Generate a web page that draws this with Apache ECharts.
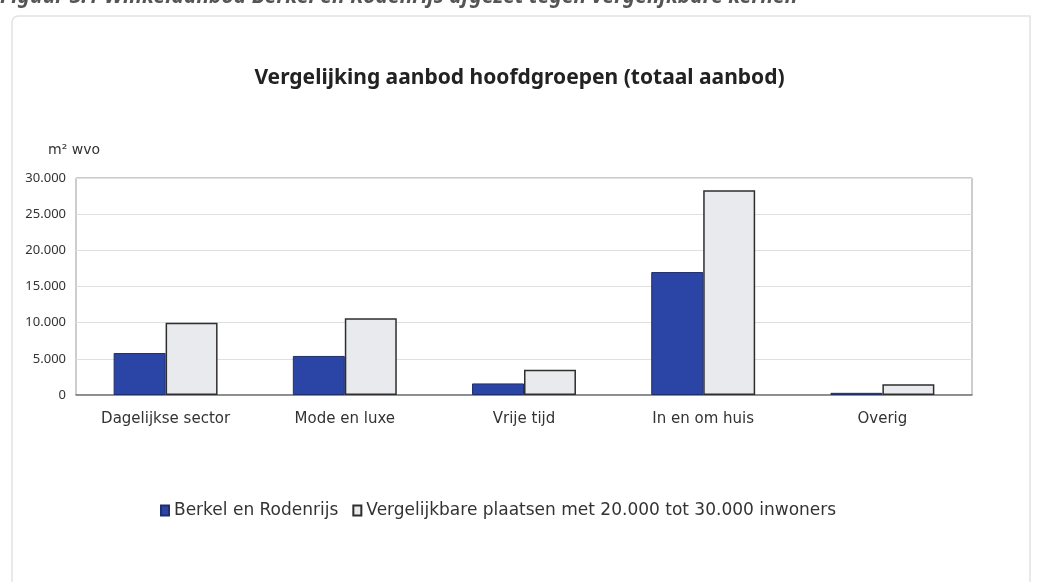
<!DOCTYPE html>
<html>
<head>
<meta charset="utf-8">
<script src="https://cdn.jsdelivr.net/npm/echarts@6/dist/echarts.min.js"></script>
<style>
  html, body { margin: 0; padding: 0; background: #fff; }
  #chart { width: 1039px; height: 582px; }
</style>
</head>
<body>
<div id="chart"></div>
<script>
// categorieën en waarden (m² wvo)
const categories = ["Dagelijkse sector", "Mode en luxe", "Vrije tijd", "In en om huis", "Overig"];
const berkel = [5800, 5400, 1600, 17000, 300];
const vergelijkbaar = [10000, 10600, 3500, 28300, 1500];
const seriesNames = ["Berkel en Rodenrijs", "Vergelijkbare plaatsen met 20.000 tot 30.000 inwoners"];
const yTicks = { min: 0, max: 30000, interval: 5000 };

const fontFamily = "'Noto Sans', 'Open Sans', sans-serif";
const wideFont = "'DejaVu Sans', 'Noto Sans', sans-serif";

// 30000 -> "30.000"
const fmt = v => String(v).replace(/\B(?=(\d{3})+(?!\d))/g, ".");

const chart = echarts.init(document.getElementById("chart"));

chart.setOption({
  backgroundColor: "#fff",
  textStyle: { fontFamily: fontFamily, color: "#333" },
  graphic: [
    {
      // kader rond de figuur
      type: "rect",
      shape: { x: 12, y: 16, width: 1018, height: 580, r: [6, 0, 0, 0] },
      style: { fill: "none", stroke: "#e2e2e2", lineWidth: 1.5 },
      silent: true
    },
    {
      // afgesneden figuurkop bovenaan
      type: "text",
      left: 0,
      top: -13,
      style: {
        text: "Figuur 3.1 Winkelaanbod Berkel en Rodenrijs afgezet tegen vergelijkbare kernen",
        fill: "#555",
        font: "italic bold 21px " + fontFamily
      },
      silent: true
    },
    {
      type: "text",
      left: 48,
      top: 143,
      style: { text: "m² wvo", fill: "#333", font: "14px " + wideFont },
      silent: true
    }
  ],
  title: {
    text: "Vergelijking aanbod hoofdgroepen (totaal aanbod)",
    left: "center",
    top: 63,
    textStyle: { fontSize: 21, fontWeight: "bold", color: "#222", fontFamily: fontFamily }
  },
  legend: {
    left: 155,
    top: 497,
    icon: "rect",
    itemWidth: 8,
    itemHeight: 10,
    itemGap: 14,
    textStyle: { fontSize: 17, color: "#333", fontFamily: wideFont },
    data: seriesNames
  },
  grid: {
    left: 76,
    right: 67,
    top: 178,
    bottom: 187,
    show: true,
    borderColor: "#9a9a9a",
    borderWidth: 1
  },
  xAxis: {
    type: "category",
    data: categories,
    axisTick: { show: false },
    axisLine: { lineStyle: { color: "#777", width: 1.5 } },
    axisLabel: { fontSize: 15, color: "#333", margin: 17, fontFamily: wideFont }
  },
  yAxis: {
    type: "value",
    min: yTicks.min,
    max: yTicks.max,
    interval: yTicks.interval,
    axisLine: { show: false },
    axisTick: { show: false },
    splitLine: { lineStyle: { color: "#e0e0e0" } },
    axisLabel: { fontSize: 13, color: "#333", margin: 10, formatter: fmt, fontFamily: fontFamily }
  },
  series: [
    {
      name: seriesNames[0],
      type: "bar",
      data: berkel,
      barGap: "0%",
      barCategoryGap: "42%",
      itemStyle: { color: "#2b45a6", borderColor: "#1f2f6e", borderWidth: 1 }
    },
    {
      name: seriesNames[1],
      type: "bar",
      data: vergelijkbaar,
      itemStyle: { color: "#e9eaee", borderColor: "#2e2e2e", borderWidth: 1.5 }
    }
  ]
});
</script>
</body>
</html>
